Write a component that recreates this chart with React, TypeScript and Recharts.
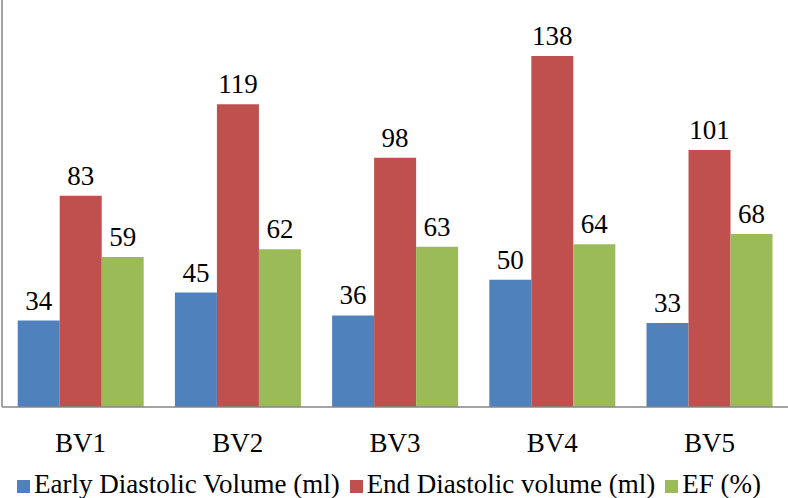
import React from 'react';
import {
  BarChart,
  Bar,
  XAxis,
  YAxis,
  Legend,
  LabelList,
} from 'recharts';

const categories = ['BV1', 'BV2', 'BV3', 'BV4', 'BV5'];
const earlyDiastolic = [34, 45, 36, 50, 33];
const endDiastolic = [83, 119, 98, 138, 101];
const ejectionFraction = [59, 62, 63, 64, 68];
const seriesNames = ['Early Diastolic Volume (ml)', 'End Diastolic volume (ml)', 'EF (%)'];

const data = categories.map((name, i) => ({
  name,
  early: earlyDiastolic[i],
  end: endDiastolic[i],
  ef: ejectionFraction[i],
}));

const FONT = '"Liberation Serif", "Times New Roman", serif';
const AXIS_COLOR = '#868686';

export default function App() {
  return (
    <div style={{ width: 788, height: 498, fontFamily: FONT }}>
      <style>{`body { margin: 0; }`}</style>
      <BarChart
        width={788}
        height={498}
        data={data}
        margin={{ top: 0, right: 0, bottom: 0, left: 0 }}
        barCategoryGap="10%"
        barGap={0}
      >
        <XAxis
          dataKey="name"
          axisLine={{ stroke: AXIS_COLOR, strokeWidth: 1.5 }}
          tickLine={false}
          tickSize={0}
          tickMargin={26}
          height={63}
          tick={{ fontFamily: FONT, fontSize: 27, fill: '#000' }}
          interval={0}
        />
        <YAxis
          domain={[0, 160]}
          width={2}
          tick={false}
          tickLine={false}
          axisLine={{ stroke: AXIS_COLOR, strokeWidth: 1.5 }}
        />
        <Legend
          verticalAlign="bottom"
          align="center"
          iconType="square"
          iconSize={13}
          itemSorter={(item: any) => seriesNames.indexOf(item.value)}
          wrapperStyle={{ fontFamily: FONT, fontSize: 27, lineHeight: '28px' }}
          formatter={(value) => (
            <span style={{ color: '#000', fontFamily: FONT }}>{value}</span>
          )}
        />
        <Bar dataKey="early" name={seriesNames[0]} fill="#4F81BD" isAnimationActive={false}>
          <LabelList dataKey="early" position="top" offset={11} fill="#000" fontSize={27} fontFamily={FONT} />
        </Bar>
        <Bar dataKey="end" name={seriesNames[1]} fill="#C0504D" isAnimationActive={false}>
          <LabelList dataKey="end" position="top" offset={11} fill="#000" fontSize={27} fontFamily={FONT} />
        </Bar>
        <Bar dataKey="ef" name={seriesNames[2]} fill="#9BBB59" isAnimationActive={false}>
          <LabelList dataKey="ef" position="top" offset={11} fill="#000" fontSize={27} fontFamily={FONT} />
        </Bar>
      </BarChart>
    </div>
  );
}
